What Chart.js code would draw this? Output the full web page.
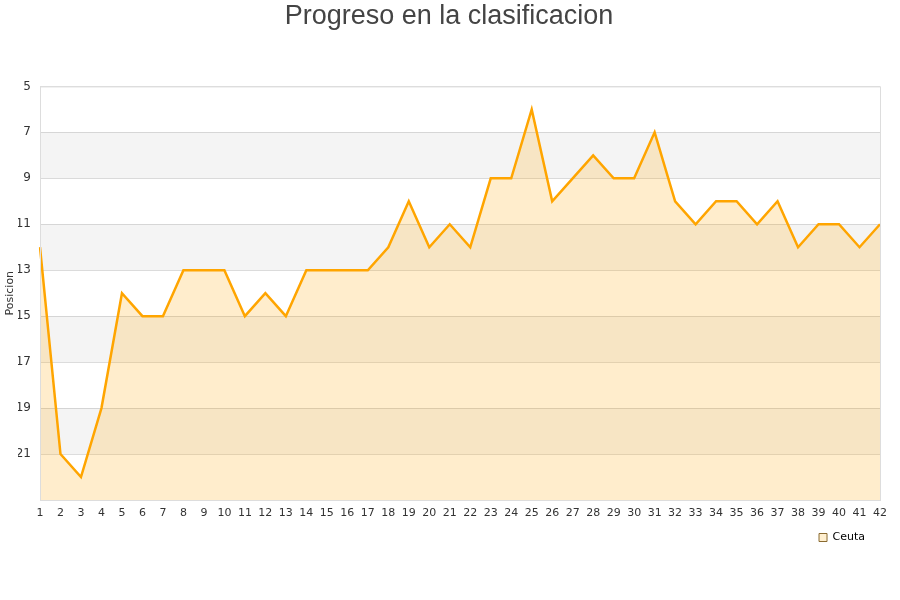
<!DOCTYPE html>
<html>
<head>
<meta charset="utf-8">
<script src="https://cdn.jsdelivr.net/npm/chart.js@4"></script>
<style>
  html, body { margin: 0; padding: 0; background: #fff; }
  #wrap { width: 900px; height: 600px; }
</style>
</head>
<body>
<div id="wrap"><canvas id="chart" width="900" height="600"></canvas></div>
<script>
// Jornadas (matchdays)
const jornadas = ['1','2','3','4','5','6','7','8','9','10','11','12','13','14','15','16','17','18','19','20','21',
                  '22','23','24','25','26','27','28','29','30','31','32','33','34','35','36','37','38','39','40','41','42'];

// Posicion por jornada
const posicionCeuta = [12, 21, 22, 19, 14, 15, 15, 13, 13, 13, 15, 14, 15, 13, 13, 13, 13, 12, 10, 12, 11,
                       12, 9, 9, 6, 10, 9, 8, 9, 9, 7, 10, 11, 10, 10, 11, 10, 12, 11, 11, 12, 11];

// Shaded bands on the y axis (from, to)
const bandas = [[7, 9], [11, 13], [15, 17], [19, 21]];

// Draw alternating grey bands and the plot frame
const bandPlugin = {
    id: 'bandas',
    beforeDatasetsDraw(chart) {
        const ctx = chart.ctx;
        const area = chart.chartArea;
        const y = chart.scales.y;
        ctx.save();
        ctx.fillStyle = 'rgba(0,0,0,0.045)';
        bandas.forEach(function(b) {
            const y1 = y.getPixelForValue(b[0]);
            const y2 = y.getPixelForValue(b[1]);
            ctx.fillRect(area.left, y1, area.right - area.left, y2 - y1);
        });
        ctx.restore();
    },
    afterDraw(chart) {
        const ctx = chart.ctx;
        const area = chart.chartArea;
        ctx.save();
        ctx.strokeStyle = '#dddddd';
        ctx.lineWidth = 1;
        ctx.strokeRect(area.left + 0.5, area.top + 0.5, area.right - area.left, area.bottom - area.top);
        ctx.restore();
    }
};

new Chart(document.getElementById('chart').getContext('2d'), {
    type: 'line',
    data: {
        labels: jornadas,
        datasets: [{
            label: 'Ceuta',
            data: posicionCeuta,
            borderColor: '#FFA500',
            backgroundColor: 'rgba(255,165,0,0.2)',
            borderWidth: 2.5,
            pointRadius: 0,
            tension: 0,
            fill: 'start'
        }]
    },
    options: {
        responsive: false,
        animation: false,
        layout: { padding: { left: 18, right: 20, top: 0, bottom: 47 } },
        plugins: {
            title: {
                display: true,
                text: 'Progreso en la clasificacion',
                font: { family: 'Liberation Sans, Arial, sans-serif', size: 27, weight: 'normal' },
                color: '#444444',
                padding: { top: 0, bottom: 54 }
            },
            legend: {
                position: 'bottom',
                align: 'end',
                labels: {
                    boxWidth: 8,
                    boxHeight: 8,
                    padding: 15,
                    color: '#000',
                    font: { family: 'DejaVu Sans, sans-serif', size: 11 },
                    generateLabels: function(chart) {
                        return [{
                            text: 'Ceuta',
                            fillStyle: '#FFEFCF',
                            strokeStyle: '#8a6a30',
                            lineWidth: 1,
                            datasetIndex: 0
                        }];
                    }
                }
            },
            tooltip: { enabled: false }
        },
        scales: {
            x: {
                offset: false,
                afterFit: function(scale) { scale.height = 17; },
                grid: { display: false, drawTicks: false },
                border: { display: false },
                ticks: {
                    color: '#333',
                    padding: 7,
                    font: { family: 'DejaVu Sans, sans-serif', size: 11 },
                    maxRotation: 0,
                    autoSkip: false
                }
            },
            y: {
                reverse: true,
                min: 5,
                max: 23,
                afterFit: function(scale) { scale.width = 22; },
                grid: { color: '#dddddd', drawTicks: false },
                border: { display: false },
                title: {
                    display: true,
                    text: 'Posicion',
                    color: '#333',
                    font: { family: 'DejaVu Sans, sans-serif', size: 11 },
                    padding: { top: -14, bottom: 0 }
                },
                ticks: {
                    stepSize: 2,
                    color: '#333',
                    padding: 9,
                    font: { family: 'DejaVu Sans, sans-serif', size: 12 },
                    callback: function(v) { return v === 23 ? '' : v; }
                }
            }
        }
    },
    plugins: [bandPlugin]
});
</script>
</body>
</html>
